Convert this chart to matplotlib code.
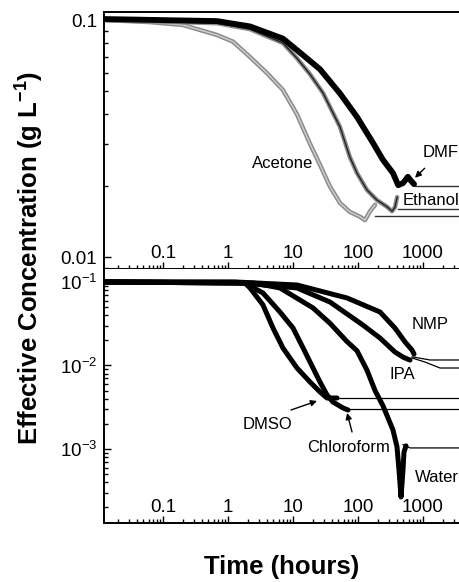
import numpy as np
import matplotlib
matplotlib.use("Agg")
import matplotlib.pyplot as plt
from matplotlib.ticker import LogLocator, NullFormatter, FixedFormatter

plt.rcParams['font.family'] = ['Liberation Sans', 'DejaVu Sans']
plt.rcParams['mathtext.fontset'] = 'custom'
plt.rcParams['mathtext.rm'] = 'Liberation Sans'
plt.rcParams['mathtext.bf'] = 'Liberation Sans:bold'
plt.rcParams['mathtext.default'] = 'regular'

# ---- top panel data (time in hours, concentration in g/L) ----
acetone_t = [0.0124, 0.063, 0.203, 0.677, 1.2, 2.18, 3.98, 7.0, 11.5, 18.3, 26, 37.1,
             52.8, 75, 107, 128, 153, 183]
acetone_c = [0.1, 0.098, 0.0953, 0.0865, 0.081, 0.0698, 0.0597, 0.0507, 0.040, 0.030,
             0.0245, 0.0198, 0.0169, 0.0155, 0.0148, 0.0143, 0.0156, 0.0166]
ethanol_t = [0.0124, 0.677, 2.18, 7.0, 11.5, 18.3, 29, 52.8, 75, 96.5, 137, 195, 279,
             334, 370, 400]
ethanol_c = [0.1, 0.097, 0.0915, 0.080, 0.0690, 0.059, 0.0492, 0.0354, 0.0264, 0.0226,
             0.0192, 0.0174, 0.0163, 0.0156, 0.0162, 0.0179]
dmf_t = [0.0124, 0.677, 2.18, 7.0, 11.5, 26, 52.8, 96.5, 170, 242, 345, 415, 492, 585,
         650, 728]
dmf_c = [0.101, 0.099, 0.094, 0.0835, 0.0747, 0.062, 0.049, 0.039, 0.0303, 0.0257,
         0.0226, 0.0201, 0.0205, 0.0218, 0.0210, 0.0203]

# plateau values (thin lines to the right): start time, level
top_plateaus = {'Acetone': (183, 0.0149), 'Ethanol': (412, 0.0160), 'DMF': (753, 0.0199)}

# ---- bottom panel data ----
nmp_t = [0.0124, 1.3, 11.5, 67.9, 218, 370, 530, 678, 728]
nmp_c = [0.1, 0.1, 0.092, 0.0643, 0.0437, 0.0281, 0.0191, 0.0153, 0.0137]
ipa_t = [0.0124, 1.3, 11.5, 37.1, 119, 218, 370, 492, 631]
ipa_c = [0.1, 0.099, 0.0848, 0.0575, 0.0305, 0.0213, 0.0145, 0.0126, 0.0116]
water_t = [0.0124, 2.5, 6.3, 20.3, 37.1, 67, 96.5, 137, 183, 242, 345, 398, 427, 459,
           492, 510, 548]
water_c = [0.1, 0.097, 0.0848, 0.0489, 0.032, 0.0195, 0.0150, 0.00883, 0.0050, 0.00330,
           0.00169, 0.00106, 0.000561, 0.000266, 0.000561, 0.00092, 0.00109]
chcl3_t = [0.0124, 1.83, 3.45, 6.3, 10, 14.3, 20.3, 26, 33.4, 41, 58.8, 70.2]
chcl3_c = [0.1, 0.097, 0.0738, 0.0437, 0.0281, 0.0162, 0.00934, 0.00634, 0.00443,
           0.00366, 0.0031, 0.00293]
dmso_t = [0.0124, 1.83, 2.18, 3.45, 4.92, 7.0, 11.5, 18.3, 26, 33.4, 47.5]
dmso_c = [0.1, 0.097, 0.0848, 0.0531, 0.0281, 0.0162, 0.00934, 0.00634, 0.00482,
          0.00408, 0.00408]

nmp_line_t = [678, 1281, 6000]
nmp_line_c = [0.0127, 0.01164, 0.01164]
ipa_line_t = [678, 1073, 1827, 6000]
ipa_line_c = [0.0123, 0.0110, 0.00933, 0.00933]
water_line_t = [492, 631, 6000]
water_line_c = [0.00113, 0.00103, 0.00103]
dmso_line = (47.5, 0.00408)
chcl3_line = (75.3, 0.00301)

x_ticks = [0.1, 1, 10, 100, 1000]
x_ticklabels = ['0.1', '1', '10', '100', '1000']

XMIN, XMAX = 10 ** -1.908, 10 ** 3.723

fig = plt.figure(figsize=(4.59, 5.82), dpi=100)
W, H = 459.0, 582.0
ax1 = fig.add_axes([104 / W, 1 - 269 / H, (470 - 104) / W, (269 - 12) / H])
ax2 = fig.add_axes([104 / W, 1 - 523 / H, (470 - 104) / W, (523 - 269) / H])


def style_axis(ax):
    ax.set_xscale('log')
    ax.set_yscale('log')
    ax.set_xlim(XMIN, XMAX)
    for s in ax.spines.values():
        s.set_linewidth(1.4)
    ax.spines['right'].set_visible(False)
    ax.xaxis.set_major_locator(plt.FixedLocator(x_ticks))
    ax.xaxis.set_major_formatter(FixedFormatter(x_ticklabels))
    ax.xaxis.set_minor_locator(LogLocator(base=10, subs=np.arange(2, 10), numticks=20))
    ax.xaxis.set_minor_formatter(NullFormatter())
    ax.yaxis.set_minor_locator(LogLocator(base=10, subs=np.arange(2, 10), numticks=20))
    ax.yaxis.set_minor_formatter(NullFormatter())
    ax.tick_params(which='both', direction='in', top=False, right=False, width=1.0)
    ax.tick_params(which='major', length=5)
    ax.tick_params(which='minor', length=3)
    ax.tick_params(axis='x', which='major', pad=-17.5, labelsize=13.5)
    ax.tick_params(axis='y', which='major', pad=5, labelsize=13.5)


style_axis(ax1)
style_axis(ax2)

# ---- top panel ----
ax1.set_ylim(10 ** -2.0506, 10 ** -0.966)
ax1.set_yticks([0.01, 0.1])
ax1.set_yticklabels(['0.01', '0.1'])

kw = dict(solid_capstyle='round', solid_joinstyle='round')
ax1.plot(acetone_t, acetone_c, color='#8c8c8c', lw=3.2, **kw)
ax1.plot(acetone_t, acetone_c, color='#d0d0d0', lw=1.0, **kw)
ax1.plot(ethanol_t, ethanol_c, color='#8c8c8c', lw=3.2, **kw)
ax1.plot(ethanol_t, ethanol_c, color='#222222', lw=1.0, **kw)
ax1.plot(dmf_t, dmf_c, color='black', lw=4.2, **kw)
for name, (t0, c0) in top_plateaus.items():
    ax1.plot([t0, XMAX], [c0, c0], color='#333333', lw=1.0)

ax1.text(2.34, 0.0249, 'Acetone', fontsize=12, ha='left', va='center')
ax1.text(492, 0.0174, 'Ethanol', fontsize=12, ha='left', va='center')
ax1.annotate('DMF', xy=(753, 0.0216), xytext=(1000, 0.0277), fontsize=12,
             ha='left', va='center',
             arrowprops=dict(arrowstyle='-|>', color='black', lw=1.0,
                             shrinkA=6, shrinkB=0, mutation_scale=9))

# ---- bottom panel ----
ax2.set_ylim(1.30e-4, 0.143)
ax2.spines['top'].set_visible(False)
ax2.set_yticks([1e-3, 1e-2, 1e-1])

for t, c in [(nmp_t, nmp_c), (ipa_t, ipa_c), (water_t, water_c),
             (chcl3_t, chcl3_c), (dmso_t, dmso_c)]:
    ax2.plot(t, c, color='black', lw=3.6, **kw)
ax2.plot(nmp_line_t, nmp_line_c, color='black', lw=0.9)
ax2.plot(ipa_line_t, ipa_line_c, color='black', lw=0.9)
ax2.plot(water_line_t, water_line_c, color='black', lw=0.9)
ax2.plot([dmso_line[0], XMAX], [dmso_line[1]] * 2, color='black', lw=0.9)
ax2.plot([chcl3_line[0], XMAX], [chcl3_line[1]] * 2, color='black', lw=0.9)

ax2.text(677, 0.0306, 'NMP', fontsize=12, ha='left', va='center')
ax2.text(310, 0.0079, 'IPA', fontsize=12, ha='left', va='center')
ax2.text(753, 4.6e-4, 'Water', fontsize=12, ha='left', va='center')
ax2.text(1.70, 0.00194, 'DMSO', fontsize=12, ha='left', va='center')
ax2.annotate('', xy=(23.4, 0.00376), xytext=(9.3, 0.00293),
             arrowprops=dict(arrowstyle='-|>', color='black', lw=1.0,
                             shrinkA=0, shrinkB=0, mutation_scale=9))
ax2.text(16.4, 0.00103, 'Chloroform', fontsize=12, ha='left', va='center')
ax2.annotate('', xy=(67.9, 0.0027), xytext=(80.9, 0.0016),
             arrowprops=dict(arrowstyle='-|>', color='black', lw=1.0,
                             shrinkA=0, shrinkB=0, mutation_scale=9))

fig.text(30 / W, 1 - 258 / H, r'Effective Concentration (g L$^{\mathbf{-1}}$)',
         rotation=90, ha='center', va='center', fontsize=18.5, fontweight='bold')
fig.text(282 / W, 1 - 567 / H, 'Time (hours)', ha='center', va='center',
         fontsize=18.5, fontweight='bold')

fig.savefig('out.png', dpi=100)
